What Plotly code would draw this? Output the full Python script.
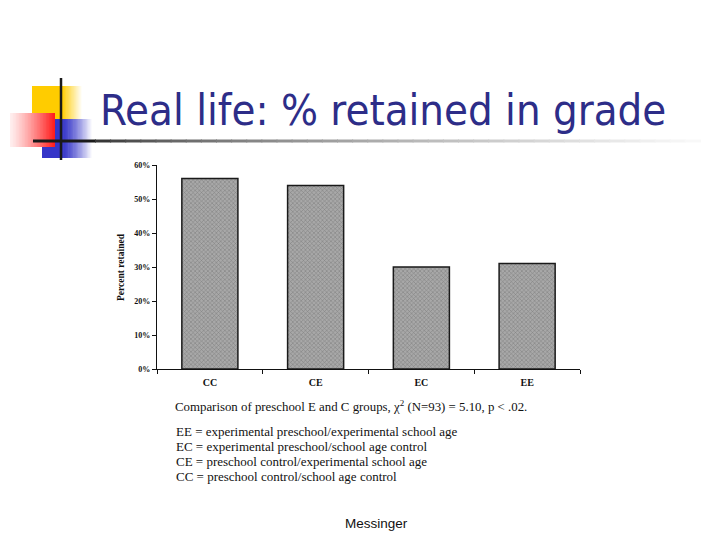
import plotly.graph_objects as go

categories = ["CC", "CE", "EC", "EE"]
retained = [0.56, 0.54, 0.30, 0.31]
y_ticks = [0, 0.1, 0.2, 0.3, 0.4, 0.5, 0.6]
y_ticklabels = ["0%", "10%", "20%", "30%", "40%", "50%", "60%"]

title_text = "Real life: % retained in grade"
caption = "Comparison of preschool E and C groups, χ<sup>2</sup> (N=93) = 5.10, p &lt; .02."
legend_lines = [
    "EE = experimental preschool/experimental school age",
    "EC = experimental preschool/school age control",
    "CE = preschool control/experimental school age",
    "CC = preschool control/school age control",
]
footer = "Messinger"

OFF = 8  # page body margin
W, H = 720 - OFF, 540 - OFF
# plot area in screen pixels
PL, PR, PT, PB = 157, 580, 165, 369


def px(x):
    return (x - PL) / (PR - PL)


def py(y):
    return (PB - y) / (PB - PT)


def lerp(c1, c2, t):
    return "rgb(%d,%d,%d)" % tuple(round(a + (b - a) * t) for a, b in zip(c1, c2))


fig = go.Figure()
fig.add_trace(go.Bar(
    x=categories, y=retained,
    marker=dict(color="#a4a4a4",
                line=dict(color="#1a1a1a", width=1.5),
                pattern=dict(shape="x", size=3, solidity=0.35, fgcolor="#5a5a5a", bgcolor="#a8a8a8")),
    width=0.53,
))

shapes = []


def grad_rect(xl, xr, yt, yb, c1, c2, n=24, gamma=1.0):
    for i in range(n):
        xa = xl + (xr - xl) * i / n
        xb = xl + (xr - xl) * (i + 1) / n + 0.6
        shapes.append(dict(type="rect", xref="paper", yref="paper", x0=px(xa), x1=px(min(xb, xr)),
                           y0=py(yb), y1=py(yt),
                           fillcolor=lerp(c1, c2, ((i + 0.5) / n) ** gamma), line=dict(width=0), layer="above"))


# yellow square (solid then fading)
shapes.append(dict(type="rect", xref="paper", yref="paper", x0=px(32), x1=px(62.5), y0=py(130), y1=py(86),
                   fillcolor="#ffcc00", line=dict(width=0), layer="above"))
grad_rect(62, 82, 86, 130, (255, 204, 0), (255, 255, 255))
# blue square
shapes.append(dict(type="rect", xref="paper", yref="paper", x0=px(42), x1=px(62.5), y0=py(158), y1=py(119),
                   fillcolor="#3535c8", line=dict(width=0), layer="above"))
grad_rect(62, 92, 119, 158, (53, 53, 200), (255, 255, 255), gamma=1.3)
# red square (white -> red)
grad_rect(10, 55, 113, 147, (255, 240, 240), (255, 25, 25), n=30, gamma=1.2)
# horizontal gradient rule
shapes.append(dict(type="line", xref="paper", yref="paper", x0=px(33), x1=px(96), y0=py(141), y1=py(141),
                   line=dict(color="#1a1a1a", width=3), layer="above"))
M = 40
for i in range(M):
    xa = 95 + (700 - 95) * i / M
    xb = 95 + (700 - 95) * (i + 1) / M + 1
    shapes.append(dict(type="line", xref="paper", yref="paper", x0=px(xa), x1=px(xb), y0=py(141), y1=py(141),
                       line=dict(color=lerp((40, 40, 40), (250, 250, 250), ((i + 0.5) / M) ** 0.6), width=3), layer="above"))
# vertical rule
shapes.append(dict(type="line", xref="paper", yref="paper", x0=px(61), x1=px(61), y0=py(78), y1=py(160),
                   line=dict(color="#1a1a1a", width=2.5), layer="above"))

annotations = [
    dict(text=title_text, xref="paper", yref="paper", x=px(98), y=py(110), xanchor="left", yanchor="middle",
         showarrow=False, font=dict(family="DejaVu Sans Condensed, DejaVu Sans", size=43.3, color="#2d2d88")),
    dict(text="Percent retained", xref="paper", yref="paper", x=px(121), y=py(267), textangle=-90,
         xanchor="center", yanchor="middle", showarrow=False,
         font=dict(family="Liberation Serif", size=9.5, color="#111", weight="bold")),
    dict(text=caption, xref="paper", yref="paper", x=px(173), y=py(406), xanchor="left", yanchor="middle",
         showarrow=False, font=dict(family="Liberation Serif", size=12.85, color="#111")),
    dict(text=footer, xref="paper", yref="paper", x=px(376.5), y=py(523), xanchor="center", yanchor="middle",
         showarrow=False, font=dict(family="Liberation Sans", size=13.5, color="#111")),
]
for k, line in enumerate(legend_lines):
    annotations.append(dict(text=line, xref="paper", yref="paper", x=px(174), y=py(431 + 15 * k),
                            xanchor="left", yanchor="middle", showarrow=False,
                            font=dict(family="Liberation Serif", size=13, color="#111")))

fig.update_layout(
    width=W, height=H,
    margin=dict(l=PL - OFF, r=W - (PR - OFF), t=PT - OFF, b=H - (PB - OFF), pad=0),
    paper_bgcolor="white", plot_bgcolor="white",
    showlegend=False,
    bargap=0.47,
    shapes=shapes,
    annotations=annotations,
    xaxis=dict(showline=True, linecolor="#111", linewidth=1.2, ticks="outside", ticklen=4, tickcolor="#111",
               tickson="boundaries", showgrid=False, zeroline=False, ticklabelstandoff=4,
               tickfont=dict(family="Liberation Serif", size=10, color="#111", weight="bold")),
    yaxis=dict(range=[0, 0.6], tickvals=y_ticks, ticktext=y_ticklabels, showline=True, linecolor="#111",
               linewidth=1.2, ticks="outside", ticklen=4, tickcolor="#111", showgrid=False, zeroline=False,
               tickfont=dict(family="Liberation Serif", size=8, color="#111", weight="bold")),
)

fig.write_html("out.html")
